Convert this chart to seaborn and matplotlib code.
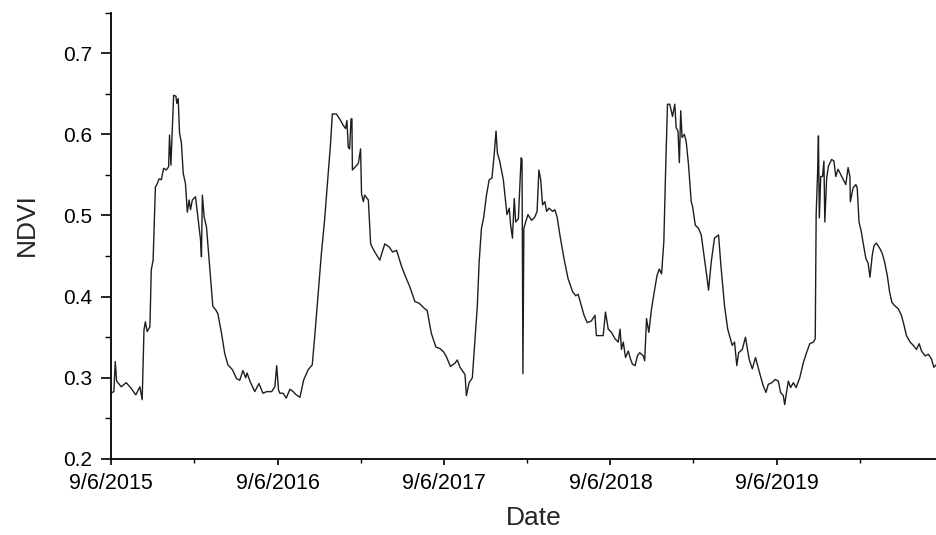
import matplotlib
matplotlib.use("Agg")
import matplotlib.pyplot as plt
import seaborn as sns
import pandas as pd

# NDVI series, as days after 9/6/2015
start_date = "2015-09-06"

days = [
    0, 7, 10, 13, 23, 34, 45, 55, 64, 69, 73, 76, 80, 86, 89, 93, 98, 102, 106, 111,
    116, 122, 127, 129, 132, 135, 138, 143, 145, 148, 151, 155, 159, 164, 168, 172, 175, 179, 186, 192,
    197, 199, 201, 205, 210, 217, 224, 230, 235, 243, 250, 257, 267, 276, 283, 290, 296, 299, 306, 316,
    325, 334, 342, 353, 360, 364, 368, 371, 378, 385, 393, 400, 407,
    415, 423, 433, 442, 448, 455, 462, 469, 477, 482, 486, 495, 502, 510, 515, 518, 521, 524, 527, 529,
    530, 535, 543, 548, 550, 554, 557, 565, 570, 577, 590, 601, 611, 618, 627, 638, 647, 656, 667, 676,
    687, 694, 703, 713, 722, 730, 736, 745, 755, 760,
    766, 777, 780, 786, 793, 799, 804, 808, 813, 818, 824, 830, 836, 841, 845, 848, 853, 861, 866, 869,
    874, 877, 881, 885, 888, 894, 897, 900, 902, 904, 906, 910, 915, 923, 930, 935, 939, 943, 947, 952,
    956, 961, 969, 974, 979, 985, 994, 1003, 1013, 1020, 1025, 1030, 1038, 1045, 1054, 1062, 1065, 1073, 1080, 1085,
    1091, 1098, 1106, 1113, 1117, 1120, 1124, 1129, 1135, 1140, 1144, 1150, 1155, 1160, 1168, 1171,
    1175, 1180, 1186, 1192, 1198, 1203, 1208, 1213, 1217, 1221, 1226, 1232, 1237, 1240, 1244, 1247, 1250, 1253, 1258, 1262,
    1267, 1273, 1276, 1282, 1289, 1295, 1302, 1307, 1311, 1317, 1324, 1333, 1338, 1346, 1353, 1363, 1368, 1373, 1377, 1385,
    1392, 1400, 1407, 1414, 1423,
    1431, 1437, 1442, 1450, 1457, 1464, 1469, 1475, 1478, 1482, 1486, 1491, 1497, 1503, 1511, 1519, 1526, 1533, 1541, 1545,
    1547, 1550, 1552, 1554, 1557, 1561, 1564, 1566, 1570, 1574, 1581, 1586, 1590, 1595, 1603, 1612, 1617, 1621, 1622, 1628,
    1634, 1637, 1641, 1646, 1651, 1656, 1661, 1665, 1670, 1674, 1679, 1687, 1692, 1697, 1703, 1708, 1713, 1719, 1727, 1734,
    1740, 1745, 1753, 1760, 1767, 1773, 1778, 1786, 1793, 1800, 1805, 1812,
]

ndvi = [
    0.281, 0.283, 0.320, 0.296, 0.289, 0.294, 0.287, 0.279, 0.289, 0.273, 0.359, 0.369, 0.357, 0.363, 0.433, 0.445, 0.535, 0.539, 0.545, 0.544,
    0.558, 0.556, 0.560, 0.599, 0.562, 0.605, 0.648, 0.647, 0.638, 0.644, 0.601, 0.590, 0.552, 0.539, 0.504, 0.519, 0.507, 0.519, 0.523, 0.494,
    0.470, 0.449, 0.525, 0.498, 0.486, 0.437, 0.388, 0.384, 0.379, 0.355, 0.330, 0.316, 0.310, 0.299, 0.297, 0.309, 0.300, 0.306, 0.295, 0.283,
    0.293, 0.281, 0.283, 0.283, 0.289, 0.315, 0.285, 0.281, 0.281, 0.275, 0.286, 0.283, 0.279,
    0.276, 0.297, 0.310, 0.316, 0.355, 0.404, 0.453, 0.494, 0.552, 0.588, 0.625, 0.625, 0.619, 0.611, 0.607, 0.617, 0.584, 0.582, 0.619, 0.619,
    0.556, 0.559, 0.564, 0.582, 0.527, 0.517, 0.525, 0.519, 0.465, 0.457, 0.445, 0.465, 0.461, 0.455, 0.457, 0.437, 0.424, 0.412, 0.394, 0.392,
    0.386, 0.383, 0.355, 0.338, 0.336, 0.332, 0.326, 0.314, 0.318, 0.322,
    0.313, 0.304, 0.278, 0.294, 0.300, 0.348, 0.389, 0.443, 0.484, 0.498, 0.525, 0.544, 0.546, 0.575, 0.604, 0.577, 0.567, 0.544, 0.517, 0.501,
    0.509, 0.488, 0.472, 0.521, 0.492, 0.496, 0.534, 0.571, 0.569, 0.305, 0.484, 0.492, 0.501, 0.494, 0.498, 0.505, 0.556, 0.544, 0.513, 0.517,
    0.505, 0.509, 0.505, 0.507, 0.498, 0.476, 0.447, 0.422, 0.406, 0.401, 0.403, 0.393, 0.377, 0.368, 0.370, 0.377, 0.352, 0.352, 0.352, 0.381,
    0.360, 0.356, 0.348, 0.344, 0.360, 0.335, 0.344, 0.325, 0.333, 0.323, 0.317, 0.315, 0.327, 0.331, 0.327, 0.321,
    0.373, 0.356, 0.385, 0.406, 0.426, 0.434, 0.428, 0.468, 0.558, 0.637, 0.637, 0.622, 0.637, 0.608, 0.604, 0.565, 0.629, 0.596, 0.600, 0.591,
    0.563, 0.517, 0.511, 0.488, 0.484, 0.476, 0.447, 0.426, 0.408, 0.443, 0.472, 0.476, 0.439, 0.389, 0.360, 0.340, 0.344, 0.315, 0.331, 0.335,
    0.350, 0.323, 0.311, 0.325, 0.306,
    0.290, 0.282, 0.292, 0.294, 0.298, 0.296, 0.282, 0.278, 0.267, 0.282, 0.296, 0.288, 0.294, 0.288, 0.300, 0.319, 0.331, 0.342, 0.344, 0.348,
    0.501, 0.550, 0.598, 0.497, 0.548, 0.548, 0.567, 0.492, 0.546, 0.561, 0.569, 0.567, 0.548, 0.557, 0.548, 0.538, 0.559, 0.548, 0.517, 0.534,
    0.538, 0.534, 0.492, 0.480, 0.463, 0.447, 0.441, 0.424, 0.451, 0.463, 0.466, 0.459, 0.453, 0.443, 0.426, 0.406, 0.393, 0.389, 0.385, 0.377,
    0.364, 0.352, 0.344, 0.340, 0.335, 0.342, 0.333, 0.327, 0.329, 0.323, 0.313, 0.317,
]

x_ticks = ["2015-09-06", "2016-09-06", "2017-09-06", "2018-09-06", "2019-09-06"]
x_tick_labels = ["9/6/2015", "9/6/2016", "9/6/2017", "9/6/2018", "9/6/2019"]
x_minor_ticks = ["2016-03-07", "2017-03-07", "2018-03-07", "2019-03-07", "2020-03-07"]
y_ticks = [0.2, 0.3, 0.4, 0.5, 0.6, 0.7]
y_tick_labels = ["0.2", "0.3", "0.4", "0.5", "0.6", "0.7"]
y_minor_ticks = [0.25, 0.35, 0.45, 0.55, 0.65, 0.75]

t0 = pd.Timestamp(start_date)
df = pd.DataFrame({"Date": t0 + pd.to_timedelta(days, unit="D"), "NDVI": ndvi})

sns.set_style("ticks")
plt.rcParams["font.family"] = ["Liberation Sans", "DejaVu Sans"]

fig = plt.figure(figsize=(9.37, 5.35), dpi=100)
ax = fig.add_axes([110.7 / 937, 76 / 535, 826.3 / 937, 446.5 / 535])

sns.lineplot(data=df, x="Date", y="NDVI", ax=ax, estimator=None,
             color="#1e1e1e", linewidth=1.0)

ax.set_xlim(t0, t0 + pd.Timedelta(days=1812))
ax.set_ylim(0.2, 0.75)

ax.set_xticks(pd.to_datetime(x_ticks))
ax.set_xticklabels(x_tick_labels)
ax.set_xticks(pd.to_datetime(x_minor_ticks), minor=True)
ax.set_yticks(y_ticks)
ax.set_yticklabels(y_tick_labels)
ax.set_yticks(y_minor_ticks, minor=True)

sns.despine(ax=ax)
for s in ["left", "bottom"]:
    ax.spines[s].set_linewidth(1.3)
    ax.spines[s].set_color("black")

ax.tick_params(axis="x", which="major", direction="out", length=4.5, width=1.2,
               labelsize=15.5, colors="black", pad=5.5)
ax.tick_params(axis="y", which="major", direction="out", length=7, width=1.2,
               labelsize=15, colors="black", pad=6.5)
ax.tick_params(axis="x", which="minor", direction="out", length=2.8, width=1.0, colors="black")
ax.tick_params(axis="y", which="minor", direction="out", length=4, width=1.0, colors="black")

ax.set_xlabel("Date", fontsize=19)
ax.set_ylabel("NDVI", fontsize=19)
ax.xaxis.set_label_coords(0.512, -0.105)
ax.yaxis.set_label_coords(-0.0874, 0.524)

fig.savefig("out.png", dpi=100)
